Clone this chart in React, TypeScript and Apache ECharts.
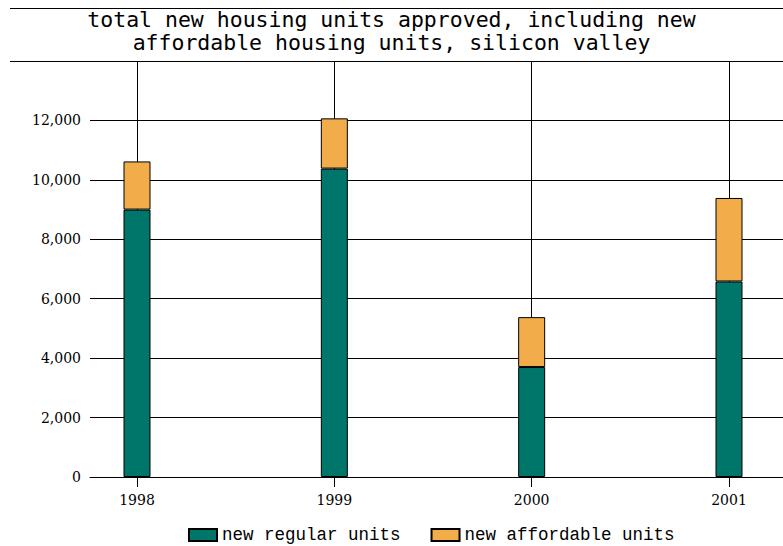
import React, { useEffect, useRef } from "react";
import * as echarts from "echarts";

const years = ["1998", "1999", "2000", "2001"];
const regularUnits = [9000, 10380, 3700, 6580];
const affordableUnits = [1620, 1690, 1680, 2810];
const yTicks = [0, 2000, 4000, 6000, 8000, 10000, 12000, 14000];
const titleLines = [
  "total new housing units approved, including new",
  "affordable housing units, silicon valley",
];

export default function App() {
  const ref = useRef<HTMLDivElement>(null);
  useEffect(() => {
    if (!ref.current) return;
    const chart = echarts.init(ref.current, undefined, { renderer: "svg" });
    const serif = "DejaVu Serif";
    chart.setOption({
      animation: false,
      backgroundColor: "#ffffff",
      title: {
        text: titleLines.join("\n"),
        left: "center",
        top: 8,
        padding: 0,
        textStyle: {
          fontFamily: "DejaVu Sans Mono",
          fontSize: 21.5,
          fontWeight: "normal",
          color: "#000",
          lineHeight: 23,
        },
      },
      legend: {
        left: 188,
        top: 525,
        padding: 0,
        itemWidth: 28,
        itemHeight: 12,
        itemGap: 30,
        icon: "rect",
        textStyle: {
          fontFamily: "Liberation Mono",
          fontSize: 17.5,
          color: "#000",
          lineHeight: 20,
        },
        data: ["new regular units", "new affordable units"],
      },
      graphic: [
        { type: "line", shape: { x1: 10, y1: 8.5, x2: 783, y2: 8.5 }, style: { stroke: "#000", lineWidth: 1 } },
        { type: "line", shape: { x1: 10, y1: 61.5, x2: 783, y2: 61.5 }, style: { stroke: "#000", lineWidth: 1 } },
      ],
      grid: [
        { left: 90, right: 0, top: 61, height: 416 },
        { left: 137, right: 54, top: 61, height: 416 },
      ],
      xAxis: [
        {
          gridIndex: 0,
          type: "category",
          data: years,
          axisLine: { show: true, lineStyle: { color: "#000", width: 1 } },
          axisTick: { show: false },
          axisLabel: { show: false },
          splitLine: { show: false },
        },
        {
          gridIndex: 1,
          type: "category",
          data: years,
          boundaryGap: false,
          axisLine: { show: false },
          axisTick: { show: true, length: 10, lineStyle: { color: "#000" } },
          axisLabel: {
            margin: 16,
            fontFamily: serif,
            fontSize: 14,
            color: "#000",
          },
          splitLine: { show: true, lineStyle: { color: "#000", width: 1 } },
        },
      ],
      yAxis: [
        {
          gridIndex: 0,
          type: "value",
          min: yTicks[0],
          max: yTicks[yTicks.length - 1],
          interval: yTicks[1] - yTicks[0],
          axisLine: { show: false },
          axisTick: { show: false },
          axisLabel: {
            margin: 9,
            fontFamily: serif,
            fontSize: 14,
            color: "#000",
            showMaxLabel: false,
            formatter: (v: number) => (v === 14000 ? "" : v.toLocaleString("en-US")),
          },
          splitLine: { show: true, lineStyle: { color: "#000", width: 1 } },
        },
        {
          gridIndex: 1,
          type: "value",
          min: yTicks[0],
          max: yTicks[yTicks.length - 1],
          interval: yTicks[1] - yTicks[0],
          show: false,
          splitLine: { show: false },
        },
      ],
      series: [
        {
          name: "new regular units",
          type: "bar",
          xAxisIndex: 1,
          yAxisIndex: 1,
          stack: "total",
          barWidth: 27,
          data: regularUnits,
          itemStyle: { color: "#00766A", borderColor: "#000", borderWidth: 1 },
        },
        {
          name: "new affordable units",
          type: "bar",
          xAxisIndex: 1,
          yAxisIndex: 1,
          stack: "total",
          barWidth: 27,
          data: affordableUnits,
          itemStyle: { color: "#F2AC4A", borderColor: "#000", borderWidth: 1 },
        },
      ],
    });
    return () => chart.dispose();
  }, []);
  return (
    <div
      ref={ref}
      style={{ position: "fixed", left: 0, top: 0, width: 783, height: 546 }}
    />
  );
}
